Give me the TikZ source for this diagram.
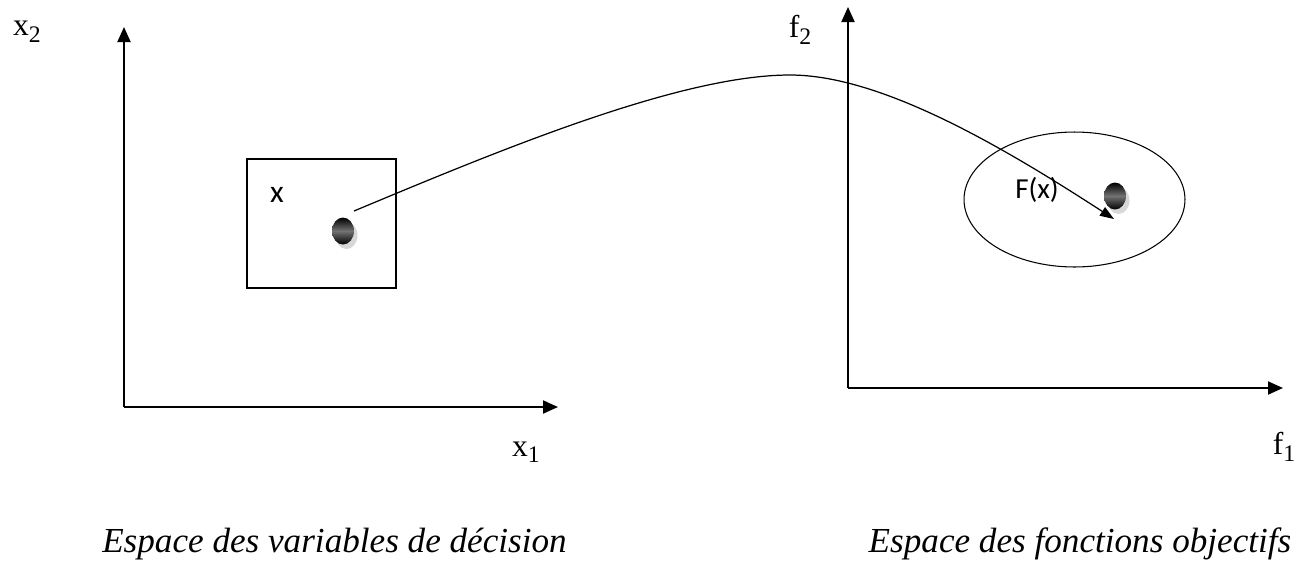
\documentclass[tikz,border=0pt]{standalone}
\usepackage{fontspec}
\setmainfont{Liberation Serif}
\newfontfamily\calibri{Carlito}
\usetikzlibrary{arrows.meta,shapes.geometric,shadows,positioning}
\newcommand{\indice}[1]{\raisebox{-0.45ex}{\fontsize{13.5}{13.5}\selectfont #1}}

\begin{document}
\begin{tikzpicture}[x=0.02cm,y=-0.02cm,
  axe/.style={line width=1.1pt,-{Triangle[length=0.3cm,width=0.26cm]}},
  etiq/.style={font=\fontsize{18}{18}\selectfont, inner sep=0pt},
  legende/.style={font=\fontsize{20}{20}\selectfont\itshape, inner sep=0pt, anchor=base},
  point/.style={ellipse, minimum width=0.44cm, minimum height=0.54cm, inner sep=0pt,
    top color=black, bottom color=black, middle color=black!55,
    drop shadow={shadow xshift=0.07cm, shadow yshift=-0.09cm, fill=gray!60}}]
  \useasboundingbox (0,0) rectangle (1313,562);

  % Espace des variables de decision
  \coordinate (O1) at (124,407);
  \coordinate (Y1) at (124,27);
  \coordinate (X1) at (558,407);
  \draw[axe] (O1) -- (Y1);
  \draw[axe] (O1) -- (X1);
  \node[etiq] (lx2) at (27,32) {x\indice{2}};
  \node[etiq] (lx1) at (526,452) {x\indice{1}};

  \node[draw, line width=0.8pt, minimum width=2.98cm, minimum height=2.58cm, inner sep=0pt] (boite) at (321.5,223.5) {};
  \node[font=\calibri\fontsize{18}{18}\selectfont, inner sep=0pt] (lx) at (277,195) {x};
  \node[point] (px) at (343,231) {};

  % Espace des fonctions objectifs
  \coordinate (O2) at (848,388);
  \coordinate (Y2) at (848,7);
  \coordinate (X2) at (1283,388);
  \draw[axe] (O2) -- (Y2);
  \draw[axe] (O2) -- (X2);
  \node[etiq] (lf2) at (800,30) {f\indice{2}};
  \node[etiq] (lf1) at (1284,447) {f\indice{1}};

  \node[draw, ellipse, line width=0.6pt, minimum width=4.42cm, minimum height=2.7cm, inner sep=0pt] (zone) at (1074.5,199.5) {};
  \node[font=\calibri\fontsize{16.5}{16.5}\selectfont, inner sep=0pt] (lF) at (1037,190) {F(x)};
  \node[point] (fx) at (1115,196) {};

  % Application F
  \coordinate (depart) at (354,211);
  \coordinate (arrivee) at (1114,219);
  \draw[line width=0.7pt, -{Triangle[length=0.28cm,width=0.2cm]}] (depart)
    .. controls (500,150) and (680,75) .. (790,75)
    .. controls (880,75) and (1000,145) .. (arrivee);

  % Legendes
  \node[legende] (leg1) at (334.5,552) {Espace des variables de décision};
  \node[legende] (leg2) at (1080,552) {Espace des fonctions objectifs};
\end{tikzpicture}
\end{document}
